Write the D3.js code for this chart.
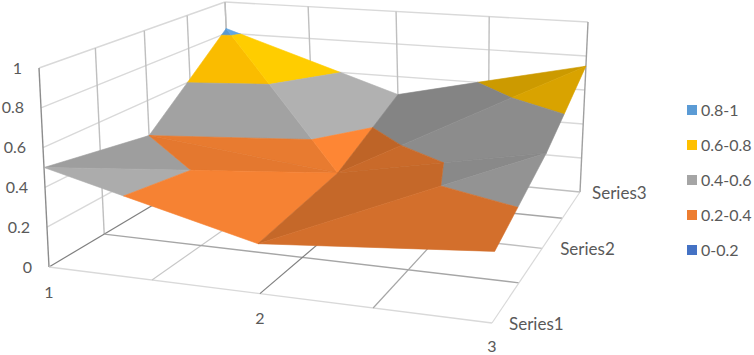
<!DOCTYPE html>
<html>
<head>
<meta charset="utf-8">
<script src="https://cdn.jsdelivr.net/npm/d3@7"></script>
<style>
  html, body { margin: 0; padding: 0; background: #fff; }
  svg { display: block; }
  text { font-family: Lato, "Open Sans", sans-serif; fill: #595959; }
</style>
</head>
<body>
<svg id="drawing_region"></svg>
<script>
// values
const categories = [1, 2, 3];
const seriesNames = ['Series1', 'Series2', 'Series3'];
const series1 = [0.50, 0.24, 0.33];
const series2 = [0.40, 0.29, 0.50];
const series3 = [0.83, 0.49, 0.74];
const zTicks = [0, 0.2, 0.4, 0.6, 0.8, 1];
const zLabels = ['0', '0.2', '0.4', '0.6', '0.8', '1'];
const bandLabels = ['0.8-1', '0.6-0.8', '0.4-0.6', '0.2-0.4', '0-0.2'];
const bandEdges = [[0.8, 1], [0.6, 0.8], [0.4, 0.6], [0.2, 0.4], [0, 0.2]];
const bandColors = ['#5B9BD5', '#FFC000', '#A5A5A5', '#ED7D31', '#4472C4'];

const width = 754, height = 355;
const svg = d3.select('#drawing_region').attr('width', width).attr('height', height);

// box corners on screen: front-left, front-right, back-right, back-left
const floorBox = [[49, 267], [492, 323], [580, 192], [232, 158]];
const topBox = [[39, 68], [500, 106], [588, 22], [225, 2]];

function homography(q) {
    const [[x0, y0], [x1, y1], [x2, y2], [x3, y3]] = q;
    const dx1 = x1 - x2, dx2 = x3 - x2, sx = x0 - x1 + x2 - x3;
    const dy1 = y1 - y2, dy2 = y3 - y2, sy = y0 - y1 + y2 - y3;
    const den = dx1 * dy2 - dx2 * dy1;
    const g = (sx * dy2 - dx2 * sy) / den, h = (dx1 * sy - sx * dy1) / den;
    const a = x1 - x0 + g * x1, b = x3 - x0 + h * x3;
    const d = y1 - y0 + g * y1, e = y3 - y0 + h * y3;
    return (u, v) => {
        const w = g * u + h * v + 1;
        return [(a * u + b * v + x0) / w, (d * u + e * v + y0) / w];
    };
}
const floorMap = homography(floorBox);
const topMap = homography(topBox);

const xScale = d3.scaleLinear().domain([1, 3]).range([0, 1]);
const sScale = d3.scaleLinear().domain([1, 3]).range([0, 1]);
const zScale = d3.scaleLinear().domain([0, 1]).range([0, 1]);

function project(x, s, z) {
    const f = floorMap(xScale(x), sScale(s));
    const t = topMap(xScale(x), sScale(s));
    const k = zScale(z);
    return [f[0] + (t[0] - f[0]) * k, f[1] + (t[1] - f[1]) * k];
}

const line = d3.line();
const gridTicks = [1, 1.5, 2, 2.5, 3];

function seg(a, b, color, w) {
    svg.append('path').attr('d', line([a, b])).attr('fill', 'none')
        .attr('stroke', color).attr('stroke-width', w);
}

// walls
zTicks.slice(1).forEach(z => {
    seg(project(1, 1, z), project(1, 3, z), '#D9D9D9', 1.4);
    seg(project(1, 3, z), project(3, 3, z), '#D9D9D9', 1.4);
});
gridTicks.forEach((t, i) => {
    seg(project(1, t, 0), project(1, t, 1), i === 0 ? '#8C8C8C' : '#BFBFBF', 1.4);
    seg(project(t, 3, 0), project(t, 3, 1), i === 4 ? '#A0A0A0' : '#BFBFBF', 1.4);
});

// floor
const floorXColors = ['#808080', '#C8C8C8', '#808080', '#A6A6A6', '#D9D9D9'];
const floorSColors = ['#D9D9D9', '#A6A6A6', '#BFBFBF', '#A6A6A6', '#BFBFBF'];
gridTicks.forEach((t, i) => {
    seg(project(t, 1, 0), project(t, 3, 0), floorXColors[i], 1.2);
    seg(project(1, t, 0), project(3, t, 0), floorSColors[i], 1.4);
});

// surface: each cell is split in two triangles, back cells first
const grid = [series1, series2, series3];
const pt = (i, j) => [categories[i], j + 1, grid[j][i]];
const facets = [
    { tri: [pt(0, 1), pt(1, 1), pt(0, 2)], shade: 0.98 },
    { tri: [pt(1, 1), pt(1, 2), pt(0, 2)], shade: 1.07 },
    { tri: [pt(1, 1), pt(2, 2), pt(1, 2)], shade: 0.80 },
    { tri: [pt(1, 1), pt(2, 1), pt(2, 2)], shade: 0.85 },
    { tri: [pt(0, 0), pt(1, 1), pt(0, 1)], shade: 0.96 },
    { tri: [pt(0, 0), pt(1, 0), pt(1, 1)], shade: 1.04 },
    { tri: [pt(1, 0), pt(2, 1), pt(1, 1)], shade: 0.83 },
    { tri: [pt(1, 0), pt(2, 0), pt(2, 1)], shade: 0.89 },
];

function clipZ(poly, limit, keepAbove) {
    const out = [];
    poly.forEach((p, i) => {
        const q = poly[(i + 1) % poly.length];
        const pIn = keepAbove ? p[2] >= limit : p[2] <= limit;
        const qIn = keepAbove ? q[2] >= limit : q[2] <= limit;
        if (pIn) out.push(p);
        if (pIn !== qIn) {
            const k = (limit - p[2]) / (q[2] - p[2]);
            out.push([p[0] + (q[0] - p[0]) * k, p[1] + (q[1] - p[1]) * k, limit]);
        }
    });
    return out;
}

function shadeColor(base, k) {
    const c = d3.rgb(base);
    return d3.rgb(Math.min(255, c.r * k), Math.min(255, c.g * k), Math.min(255, c.b * k)).formatHex();
}

facets.forEach(f => {
    bandEdges.forEach((b, n) => {
        let poly = clipZ(f.tri, b[0], true);
        if (poly.length) poly = clipZ(poly, b[1], false);
        if (poly.length < 3) return;
        const col = shadeColor(bandColors[n], f.shade);
        svg.append('path')
            .attr('d', line(poly.map(p => project(p[0], p[1], p[2]))) + 'Z')
            .attr('fill', col).attr('stroke', col).attr('stroke-width', 0.6);
    });
});

// axis labels
const fontSize = 16;
zTicks.forEach((z, i) => {
    const p = project(1, 1, z);
    svg.append('text').attr('x', p[0] - 17).attr('y', p[1]).attr('dy', '0.35em')
        .attr('text-anchor', 'end').style('font-size', fontSize + 'px').text(zLabels[i]);
});
categories.forEach(c => {
    const p = project(c, 1, 0);
    svg.append('text').attr('x', p[0]).attr('y', Math.min(p[1] + 25, 346)).attr('dy', '0.35em')
        .attr('text-anchor', 'middle').style('font-size', fontSize + 'px').text(c);
});
const seriesDx = [17, 18, 12];
seriesNames.forEach((s, i) => {
    const p = project(3, i + 1, 0);
    svg.append('text').attr('x', p[0] + seriesDx[i]).attr('y', p[1] + 1).attr('dy', '0.35em')
        .style('font-size', '17px').text(s);
});

// legend
const legendY = d3.scalePoint().domain(bandLabels).range([110, 250]);
bandLabels.forEach((l, i) => {
    const y = legendY(l);
    svg.append('rect').attr('x', 687).attr('y', y - 5).attr('width', 10).attr('height', 10)
        .attr('fill', bandColors[i]);
    svg.append('text').attr('x', 701).attr('y', y).attr('dy', '0.35em')
        .style('font-size', fontSize + 'px').text(l);
});
</script>
</body>
</html>
